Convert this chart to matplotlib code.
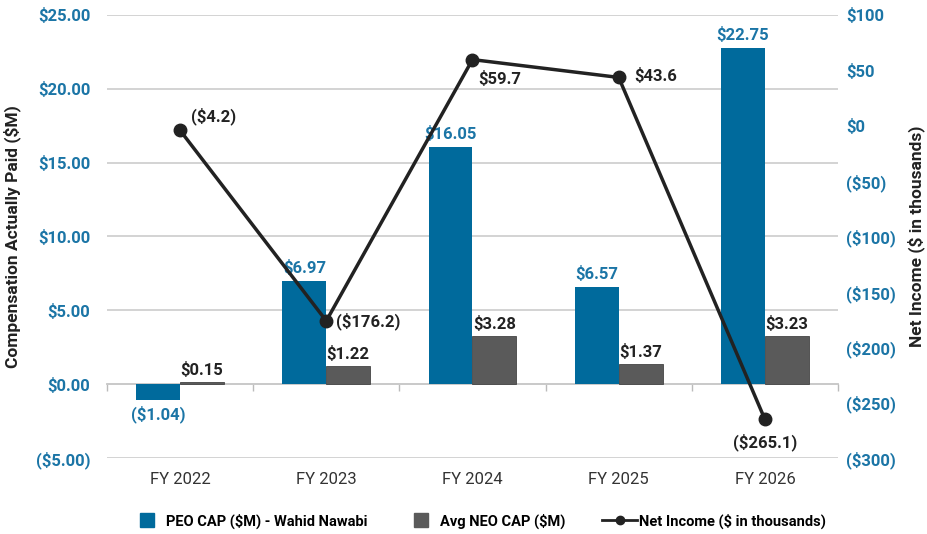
import numpy as np
import matplotlib.pyplot as plt
from matplotlib.lines import Line2D

plt.rcParams['font.family'] = ['Roboto', 'DejaVu Sans']

# data
years = ['FY 2022', 'FY 2023', 'FY 2024', 'FY 2025', 'FY 2026']
peo_cap = [-1.04, 6.97, 16.05, 6.57, 22.75]
neo_cap = [0.15, 1.22, 3.28, 1.37, 3.23]
net_income = [-4.2, -176.2, 59.7, 43.6, -265.1]

blue = '#006a9c'
gray = '#5a5a5a'
tick_blue = '#1b75a6'
dark = '#222222'

def money(v, dec):
    s = f'${abs(v):,.{dec}f}'
    return f'({s})' if v < 0 else s

x = np.arange(len(years))
w = 0.30

fig = plt.figure(figsize=(9.27, 5.34), dpi=100)
ax = fig.add_axes([0.1154, 0.1423, 0.7886, 0.8297])
ax2 = ax.twinx()

ax.bar(x - w / 2, peo_cap, w, color=blue, zorder=3)
ax.bar(x + w / 2, neo_cap, w, color=gray, edgecolor='#444444', linewidth=0.6, zorder=3)

for i, v in enumerate(peo_cap):
    ax.annotate(money(v, 2), (x[i] - w / 2, v), xytext=(0, 4 if v >= 0 else -4),
                textcoords='offset points', ha='center', va='bottom' if v >= 0 else 'top',
                color=tick_blue, fontsize=12, fontweight='bold')
for i, v in enumerate(neo_cap):
    ax.annotate(money(v, 2), (x[i] + w / 2, v), xytext=(0, 3),
                textcoords='offset points', ha='center', va='bottom',
                color=dark, fontsize=12, fontweight='bold')

ax.set_xlim(-0.5, len(years) - 0.5)
ax.set_ylim(-5, 25)
ax.set_yticks(np.arange(-5, 26, 5))
ax.set_yticklabels([money(v, 2) for v in np.arange(-5, 26, 5)])
ax.grid(axis='y', color='#cccccc', linewidth=1.2, zorder=0)
ax.set_axisbelow(True)
ax.set_xticks(x)
ax.set_xticklabels(years, fontsize=12, color='#333333')
ax.tick_params(axis='x', length=0, pad=10)
ax.tick_params(axis='y', length=0, labelsize=12, labelcolor=tick_blue, pad=12)
for t in ax.get_yticklabels():
    t.set_fontweight('bold')
for s in ax.spines.values():
    s.set_visible(False)
ax.set_ylabel('Compensation Actually Paid ($M)', fontsize=12.5, fontweight='bold', color=dark, labelpad=11)

# zero axis with category separators
ylo, yhi = ax.get_ylim()
zax = ax.secondary_xaxis((0 - ylo) / (yhi - ylo))
zax.set_xticks(np.arange(len(years) + 1) - 0.5)
zax.set_xticklabels([])
zax.tick_params(length=5, color='#bbbbbb', width=1)
zax.spines['bottom'].set_color('#bbbbbb')
zax.spines['bottom'].set_linewidth(1.2)

# net income line
ax2.plot(x, net_income, color=dark, linewidth=2.5, marker='o', markersize=9, zorder=5)
ax2.set_ylim(-300, 100)
ax2.set_yticks(np.arange(-300, 101, 50))
ax2.set_yticklabels([money(v, 0) for v in np.arange(-300, 101, 50)])
ax2.tick_params(axis='y', length=0, labelsize=12, labelcolor=tick_blue, pad=6)
for t in ax2.get_yticklabels():
    t.set_fontweight('bold')
for s in ax2.spines.values():
    s.set_visible(False)
ax2.set_ylabel('Net Income ($ in thousands)', fontsize=12.5, fontweight='bold', color=dark, labelpad=8)

offsets = [(8, 4, 'left', 'bottom'), (7, 0, 'left', 'center'), (4, -8, 'left', 'top'),
           (11, 1, 'left', 'center'), (0, -10, 'center', 'top')]
for i, v in enumerate(net_income):
    dx, dy, ha, va = offsets[i]
    ax2.annotate(money(v, 1), (x[i], v), xytext=(dx, dy), textcoords='offset points',
                 ha=ha, va=va, fontsize=12, fontweight='bold', color=dark)

handles = [Line2D([0], [0], color=blue, marker='s', markersize=10, linestyle='none',
                  label='PEO CAP ($M) - Wahid Nawabi'),
           Line2D([0], [0], color=gray, marker='s', markersize=10, linestyle='none',
                  label='Avg NEO CAP ($M)'),
           Line2D([0], [0], color=dark, linewidth=2, marker='o', markersize=6,
                  label='Net Income ($ in thousands)')]
fig.legend(handles=handles, loc='center', bbox_to_anchor=(0.515, 0.024), ncol=3,
           frameon=False, handlelength=2.4, handletextpad=0.1, columnspacing=2.5,
           prop={'family': ['Liberation Sans Narrow', 'Roboto'], 'weight': 'bold', 'size': 10.5})

fig.savefig('out.png', dpi=100)
